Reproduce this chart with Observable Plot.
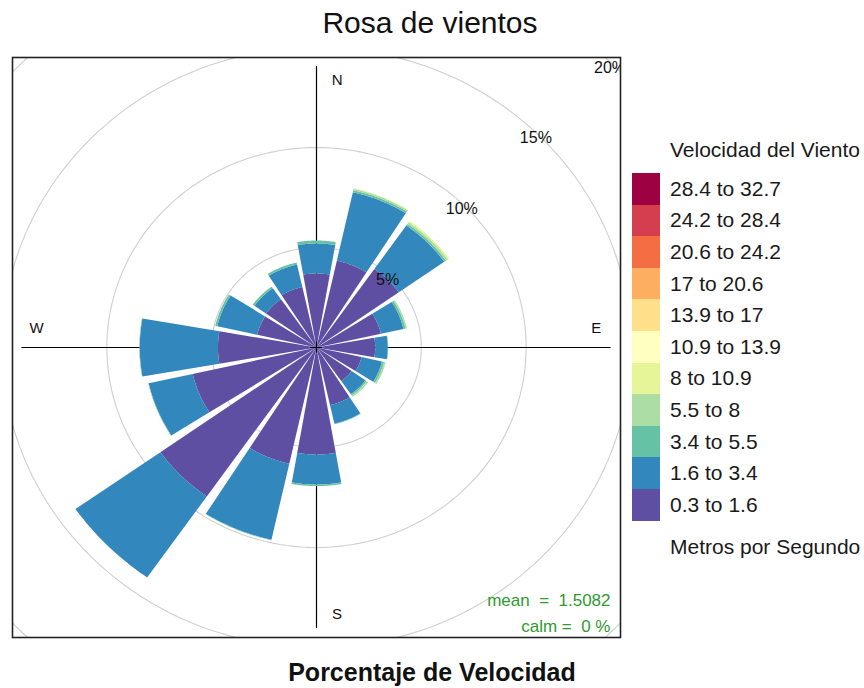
<!DOCTYPE html>
<html>
<head>
<meta charset="utf-8">
<script src="https://cdn.jsdelivr.net/npm/d3@7"></script>
<script src="https://cdn.jsdelivr.net/npm/@observablehq/plot@0.6"></script>
<style>
  body { margin: 0; background: #fff; font-family: "Liberation Sans", Arial, sans-serif; }
  #wrap { position: relative; width: 864px; height: 688px; overflow: hidden; }
  #wrap svg { position: absolute; left: 0; top: 0; }
  svg text { white-space: pre; }
  .leg { position: absolute; font-family: "Liberation Sans", Arial, sans-serif; color: #1a1a1a; white-space: nowrap; }
  .legtxt { font-size: 21px; line-height: 24px; }
  .box { position: absolute; }
</style>
</head>
<body>
<div id="wrap"></div>
<script>
// ---------- data ----------
const directions = ["N","NNE","NE","ENE","E","ESE","SE","SSE","S","SSW","SW","WSW","W","WNW","NW","NNW"];
const dirAngles  = [0,22.5,45,67.5,90,112.5,135,157.5,180,202.5,225,247.5,270,292.5,315,337.5];

const speedBins = ["0.3 to 1.6","1.6 to 3.4","3.4 to 5.5","5.5 to 8","8 to 10.9","10.9 to 13.9","13.9 to 17","17 to 20.6","20.6 to 24.2","24.2 to 28.4","28.4 to 32.7"];
const binColors = ["#5E4FA2","#3288BD","#66C2A5","#ABDDA4","#E6F598","#FFFFBF","#FEE08B","#FDAE61","#F46D43","#D53E4F","#9E0142"];

// percentage of time in each direction for each speed bin (m/s)
const freq_0_3_1_6  = [3.70,4.45,4.80,3.15,2.80,2.20,2.05,2.95,5.35,5.95,9.10,6.05,4.70,2.90,2.95,3.10];
const freq_1_6_3_4  = [1.50,3.50,2.65,1.10,0.60,1.00,0.80,0.95,1.50,3.90,4.95,2.15,3.73,1.95,0.67,1.15];
const freq_3_4_5_5  = [0.15,0.10,0.10,0.10,0.02,0.10,0.08,0.03,0.08,0.02,0.00,0.02,0.02,0.10,0.10,0.10];
const freq_5_5_8    = [0.00,0.08,0.10,0.07,0.00,0.08,0.08,0.00,0.00,0.00,0.00,0.00,0.00,0.00,0.00,0.00];
const freq_8_10_9   = [0.00,0.03,0.08,0.00,0.00,0.00,0.00,0.00,0.00,0.00,0.00,0.00,0.00,0.00,0.00,0.00];
const binSeries = [freq_0_3_1_6, freq_1_6_3_4, freq_3_4_5_5, freq_5_5_8, freq_8_10_9];

const ringLevels = [5,10,15,20];
const ringLabels = ["5%","10%","15%","20%"];
const compassLabels = ["N","E","S","W"];
const meanSpeed = "1.5082";
const calmPct = "0";

const titleText = "Rosa de vientos";
const xLabelText = "Porcentaje de Velocidad";
const legendTitle = "Velocidad del Viento";
const legendUnits = "Metros por Segundo";

// ---------- derived geometry ----------
const rad = Math.PI / 180;
const halfWidth = 9.9;      // degrees, half angular width of each paddle
const arcSteps = 40;

const polys = [];
directions.forEach((dir, i) => {
  let r0 = 0;
  binSeries.forEach((series, b) => {
    const v = series[i];
    if (v <= 0) return;
    const r1 = r0 + v;
    const a = dirAngles[i];
    const id = dir + "-" + b;
    const pts = [];
    for (let k = 0; k <= arcSteps; k++) {
      const t = (a - halfWidth + (2 * halfWidth) * k / arcSteps) * rad;
      pts.push({x: r1 * Math.sin(t), y: r1 * Math.cos(t)});
    }
    for (let k = arcSteps; k >= 0; k--) {
      const t = (a - halfWidth + (2 * halfWidth) * k / arcSteps) * rad;
      pts.push({x: r0 * Math.sin(t), y: r0 * Math.cos(t)});
    }
    pts.forEach(p => polys.push({...p, id, bin: speedBins[b]}));
    r0 = r1;
  });
});

const totals = directions.map((d, i) => d3.sum(binSeries, s => s[i]));
const maxFreq = d3.max(totals);
const lim = maxFreq * 1.032;

const rings = [];
ringLevels.forEach(r => {
  for (let k = 0; k <= 180; k++) {
    const t = k * 2 * Math.PI / 180;
    rings.push({x: r * Math.sin(t), y: r * Math.cos(t), r});
  }
});

const compassPos = {
  N: [0.07 * maxFreq, 0.95 * maxFreq],
  E: [0.95 * maxFreq, 0.07 * maxFreq],
  S: [0.07 * maxFreq, -0.95 * maxFreq],
  W: [-0.95 * maxFreq, 0.07 * maxFreq]
};

const font = "Liberation Sans, Arial, sans-serif";

const plot = Plot.plot({
  width: 864,
  height: 688,
  marginLeft: 12,
  marginRight: 244,
  marginTop: 57,
  marginBottom: 51,
  x: {domain: [-lim, lim], axis: null},
  y: {domain: [-lim, lim], axis: null},
  color: {domain: speedBins, range: binColors},
  style: {fontFamily: font, background: "#fff", overflow: "visible"},
  marks: [
    Plot.line(rings, {x: "x", y: "y", z: "r", stroke: "#cfcfcf", strokeWidth: 1.1, clip: true}),
    Plot.ruleX([0], {y1: -maxFreq, y2: maxFreq, stroke: "#000", strokeWidth: 1.2}),
    Plot.ruleY([0], {x1: -maxFreq, x2: maxFreq, stroke: "#000", strokeWidth: 1.2}),
    Plot.line(polys, {x: "x", y: "y", z: "id", fill: "bin", stroke: "none", strokeWidth: 0, curve: "linear-closed"}),
    Plot.ruleX([0], {y1: -0.28, y2: 0.28, stroke: "#000", strokeWidth: 1.2}),
    Plot.ruleY([0], {x1: -0.28, x2: 0.28, stroke: "#000", strokeWidth: 1.2}),
    Plot.text(compassLabels, {x: d => compassPos[d][0], y: d => compassPos[d][1], text: d => d, fontSize: 15, fill: "#111"}),
    Plot.text(ringLevels, {x: r => r * Math.SQRT1_2, y: r => r * Math.SQRT1_2, text: (d, i) => ringLabels[i], dx: -3, dy: 3, fontSize: 16, fill: "#111", clip: true}),
    Plot.text([`mean  =  ${meanSpeed}`], {frameAnchor: "bottom-right", dx: -10, dy: -37, lineAnchor: "middle", fontSize: 17, fill: "#2f9a2f"}),
    Plot.text([`calm =  ${calmPct} %`], {frameAnchor: "bottom-right", dx: -10, dy: -11, lineAnchor: "middle", fontSize: 17, fill: "#2f9a2f"}),
    Plot.frame({stroke: "#222", strokeWidth: 1.6})
  ]
});

const wrap = document.getElementById("wrap");
wrap.appendChild(plot);

// title and x label
const svg = d3.select(plot);
svg.append("text").attr("x", 430).attr("y", 33).attr("text-anchor", "middle")
  .style("font-family", font).style("font-size", "30px").attr("fill", "#111").text(titleText);
svg.append("text").attr("x", 432).attr("y", 681).attr("text-anchor", "middle")
  .style("font-family", font).style("font-size", "25px").style("font-weight", "bold").attr("fill", "#111").text(xLabelText);

// legend (HTML)
function addDiv(cls, left, top, text) {
  const d = document.createElement("div");
  d.className = cls;
  d.style.left = left + "px";
  d.style.top = top + "px";
  if (text != null) d.textContent = text;
  wrap.appendChild(d);
  return d;
}
addDiv("leg legtxt", 670, 138, legendTitle);
const boxTop = 173, boxH = 31.6;
const order = speedBins.map((b, i) => i).reverse();
order.forEach((bi, k) => {
  const top = boxTop + k * boxH;
  const bx = addDiv("box", 632, top, null);
  bx.style.width = "28px";
  bx.style.height = (boxH + 0.3) + "px";
  bx.style.background = binColors[bi];
  addDiv("leg legtxt", 670, top + boxH / 2 - 12, speedBins[bi]);
});
addDiv("leg legtxt", 670, 535, legendUnits);
</script>
</body>
</html>
